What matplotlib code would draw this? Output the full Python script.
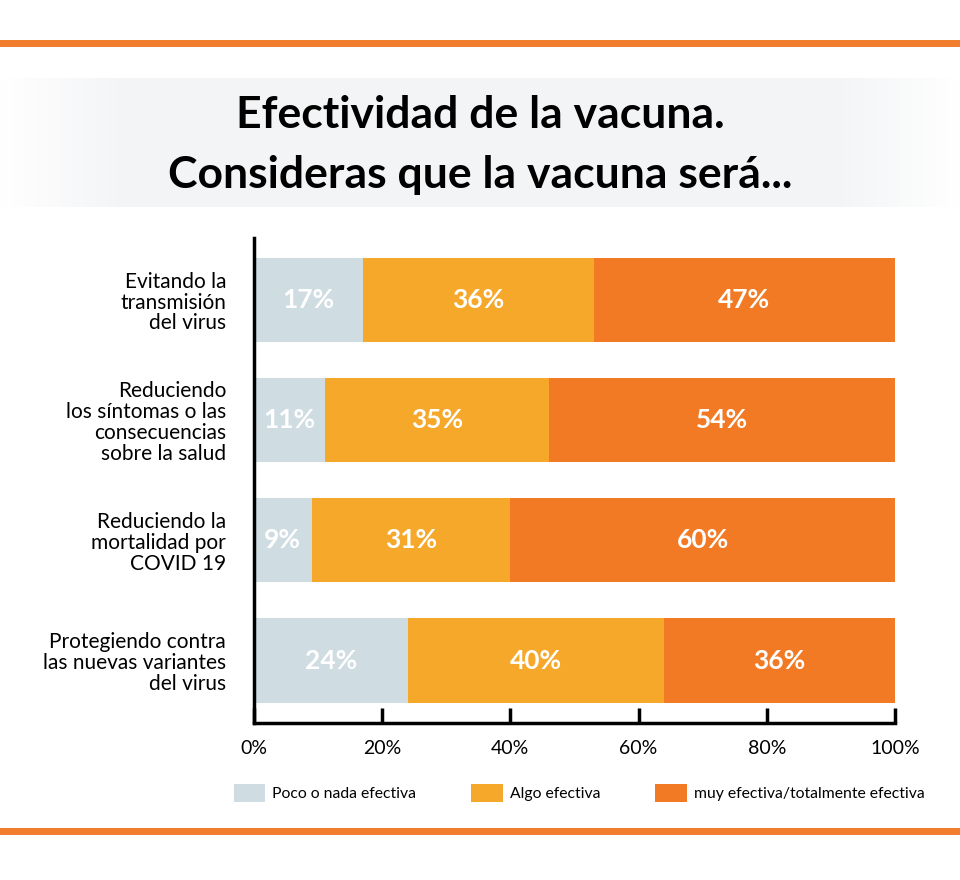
import numpy as np
import matplotlib
matplotlib.use("Agg")
import matplotlib.pyplot as plt
from matplotlib.ticker import FuncFormatter

plt.rcParams['font.family'] = ['Lato', 'DejaVu Sans']

# Data
categories = ["Evitando la\ntransmisión\ndel virus",
              "Reduciendo\nlos síntomas o las\nconsecuencias\nsobre la salud",
              "Reduciendo la\nmortalidad por\nCOVID 19",
              "Protegiendo contra\nlas nuevas variantes\ndel virus"]
poco = [17, 11, 9, 24]
algo = [36, 35, 31, 40]
muy = [47, 54, 60, 36]
series_names = ["Poco o nada efectiva", "Algo efectiva", "muy efectiva/totalmente efectiva"]
colors = ["#CFDCE2", "#F5A82A", "#F27A25"]
orange_line = "#F07C2C"

fig = plt.figure(figsize=(9.6, 8.8), dpi=100)
fig.patch.set_facecolor("white")

# title band with soft fade at the sides
bg = fig.add_axes([0, 1 - 207/880, 1, (207 - 78)/880])
xs = np.linspace(-1, 1, 400)
fade = np.clip((1 - np.abs(xs)) / 0.25, 0, 1)
img = np.ones((1, 400, 3))
for i, c in enumerate([0.955, 0.96, 0.965]):
    img[0, :, i] = 1 - (1 - c) * fade
bg.imshow(img, aspect='auto', extent=[0, 1, 0, 1])
bg.axis('off')

fig.text(0.5, 1 - 115/880, "Efectividad de la vacuna.", ha='center', va='center',
         fontsize=32, fontweight='bold', color='black')
fig.text(0.5, 1 - 175/880, "Consideras que la vacuna será...", ha='center', va='center',
         fontsize=32, fontweight='bold', color='black')

# orange rules
for yy in (43, 831):
    fig.add_artist(plt.Line2D([0, 1], [1 - yy/880, 1 - yy/880], color=orange_line, linewidth=5))

ax = fig.add_axes([254/960, 1 - 723/880, (895 - 254)/960, (723 - 238)/880])
y = np.arange(len(categories))
h = 0.7
b1 = ax.barh(y, poco, height=h, color=colors[0], label=series_names[0])
b2 = ax.barh(y, algo, left=poco, height=h, color=colors[1], label=series_names[1])
left3 = np.array(poco) + np.array(algo)
b3 = ax.barh(y, muy, left=left3, height=h, color=colors[2], label=series_names[2])

for vals, lefts in ((poco, np.zeros(4)), (algo, np.array(poco)), (muy, left3)):
    for i, v in enumerate(vals):
        ax.text(lefts[i] + v / 2, y[i], f"{v}%", ha='center', va='center',
                color='white', fontsize=19, fontweight='bold')

ax.set_xlim(0, 100)
ax.set_ylim(3.52, -0.517)
ax.set_yticks(y)
ax.set_yticklabels(categories, fontsize=15, linespacing=1.05, ha='right')
ax.tick_params(axis='y', length=0, pad=20)
ax.set_xticks([0, 20, 40, 60, 80, 100])
ax.xaxis.set_major_formatter(FuncFormatter(lambda v, p: f"{v:.0f}%"))
ax.tick_params(axis='x', direction='in', length=11, width=2.5, labelsize=14, pad=12)
for s in ('top', 'right'):
    ax.spines[s].set_visible(False)
for s in ('left', 'bottom'):
    ax.spines[s].set_linewidth(2.5)
ax.set_facecolor('none')

fig.legend(handles=[b1, b2, b3], loc='center left', bbox_to_anchor=(234/960, 1 - 793/880),
           ncol=3, frameon=False, fontsize=11.3, handlelength=2.0, handleheight=1.3,
           handletextpad=0.45, columnspacing=3.5, borderpad=0, borderaxespad=0)

fig.savefig("out.png", dpi=100, facecolor='white')
